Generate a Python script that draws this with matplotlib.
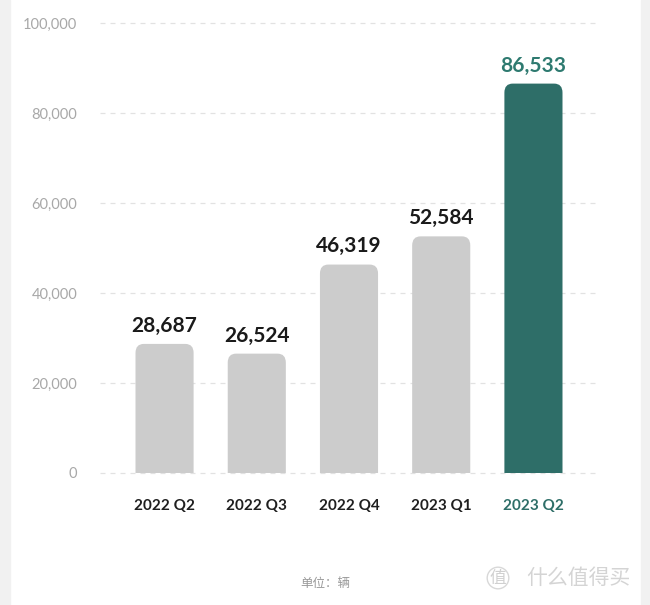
import matplotlib
matplotlib.use("Agg")
import matplotlib.pyplot as plt
from matplotlib.patches import FancyBboxPatch, Rectangle

categories = ["2022 Q2", "2022 Q3", "2022 Q4", "2023 Q1", "2023 Q2"]
values = [28687, 26524, 46319, 52584, 86533]
yticks = [0, 20000, 40000, 60000, 80000, 100000]
unit_label = "单位：辆"

plt.rcParams['font.family'] = ['Lato', 'Noto Sans CJK SC', 'DejaVu Sans']

W, H = 650, 605
fig = plt.figure(figsize=(W / 100, H / 100), dpi=100)
fig.patch.set_facecolor("white")

# side gray strips
fig.add_artist(Rectangle((0, 0), 10 / W, 1, transform=fig.transFigure, color="#f1f1f1", zorder=0))
fig.add_artist(Rectangle((641 / W, 0), 9 / W, 1, transform=fig.transFigure, color="#f1f1f1", zorder=0))

ax = fig.add_axes([100 / W, (H - 473) / H, 498 / W, 450 / H])
ax.set_xlim(-0.7, 4.7)
ax.set_ylim(0, 100000)
ax.patch.set_alpha(0)

for s in ax.spines.values():
    s.set_visible(False)

for y in yticks:
    ax.axhline(y, color="#e2e2e2", lw=0.9, ls=(0, (4, 4)), zorder=0, clip_on=False)

grey = "#cccccc"
teal = "#2e6e68"
bw = 0.63
r = 0.09
aspect = (9 / 4.5 * 1000) / r
for i, v in enumerate(values):
    c = teal if i == len(values) - 1 else grey
    p = FancyBboxPatch((i - bw / 2, -5000), bw, v + 5000,
                       boxstyle=f"round,pad=0,rounding_size={r}",
                       mutation_aspect=aspect, fc=c, ec="none", zorder=2, clip_on=True)
    ax.add_patch(p)
    ax.text(i, v + 1800, f"{v:,}", ha="center", va="bottom", fontsize=15,
            fontweight="bold", color=("#2e7a70" if i == len(values) - 1 else "#1a1a1a"))

ax.set_yticks(yticks)
ax.set_yticklabels([f"{y:,}" for y in yticks], fontsize=10.5, color="#a8a8a8")
ax.set_xticks(range(len(categories)))
ax.set_xticklabels(categories, fontsize=11, fontweight="bold")
for i, lab in enumerate(ax.get_xticklabels()):
    lab.set_color(teal if i == len(categories) - 1 else "#1f1f1f")
ax.tick_params(axis="both", length=0)
ax.tick_params(axis="x", pad=19)
ax.tick_params(axis="y", pad=16.5)

fig.text(325 / W, 1 - 583 / H, unit_label, ha="center", va="center", fontsize=9, color="#999999")
fig.text(498 / W, 1 - 578 / H, "值", ha="center", va="center", fontsize=12, color="#d0d0d0",
         bbox=dict(boxstyle="circle,pad=0.15", fc="none", ec="#d8d8d8", lw=1))
fig.text(578 / W, 1 - 578 / H, "什么值得买", ha="center", va="center", fontsize=15, color="#d4d4d4")

fig.savefig("out.png", dpi=100, facecolor="white")
